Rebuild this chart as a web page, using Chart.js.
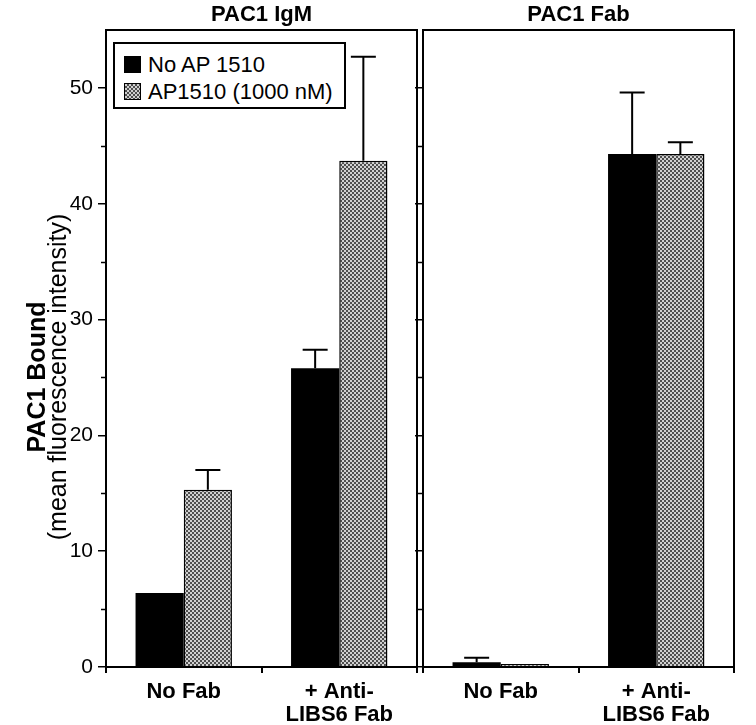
<!DOCTYPE html>
<html>
<head>
<meta charset="utf-8">
<script src="https://cdn.jsdelivr.net/npm/chart.js@4"></script>
<style>
  body { margin: 0; background: #fff; }
  #wrap { position: relative; width: 756px; height: 725px; font-family: "Liberation Sans", Arial, Helvetica, sans-serif; }
  canvas { position: absolute; left: 0; top: 0; }
  .legend { position: absolute; left: 113px; top: 42px; width: 229px; height: 63px; border: 2px solid #000; background: #fff; }
  .legend .item { position: absolute; left: 9px; font-size: 22px; line-height: 22px; white-space: nowrap; }
  .legend .sw { display: inline-block; width: 15px; height: 15px; border: 1.5px solid #000; vertical-align: -1px; margin-right: 7px; }
  .sw.black { background: #000; }
  .sw.dither { background: conic-gradient(#4e4e4e 25%, #d0d0d0 0 50%, #4e4e4e 0 75%, #d0d0d0 0); background-size: 4px 4px; }
</style>
</head>
<body>
<div id="wrap">
  <canvas id="igmChart" width="756" height="725"></canvas>
  <canvas id="fabChart" width="756" height="725"></canvas>
  <div class="legend">
    <div class="item" style="top:10px"><span class="sw black"></span>No AP 1510</div>
    <div class="item" style="top:37px"><span class="sw dither"></span>AP1510 (1000 nM)</div>
  </div>
</div>
<script>
//#region DATA
const categories = ["No Fab", ["+ Anti-", "LIBS6 Fab"]];
const seriesNames = ["No AP 1510", "AP1510 (1000 nM)"];

// PAC1 IgM panel
const igmNoAP = [6.4, 25.8];
const igmNoAPErr = [0, 1.6];
const igmAP = [15.3, 43.7];
const igmAPErr = [1.7, 9.0];

// PAC1 Fab panel
const fabNoAP = [0.4, 44.3];
const fabNoAPErr = [0.4, 5.3];
const fabAP = [0.25, 44.3];
const fabAPErr = [0, 1.0];

const yTicks = [0, 10, 20, 30, 40, 50];
const yMinorTicks = [5, 15, 25, 35, 45];
const yMax = 55;
//#endregion

const FONT = "'Liberation Sans', Arial, Helvetica, sans-serif";

function makeDither() {
  const c = document.createElement("canvas");
  c.width = 4;
  c.height = 4;
  const g = c.getContext("2d");
  g.fillStyle = "#d0d0d0";
  g.fillRect(0, 0, 4, 4);
  g.fillStyle = "#4e4e4e";
  g.fillRect(0, 0, 2, 2);
  g.fillRect(2, 2, 2, 2);
  return g.createPattern(c, "repeat");
}
const dither = makeDither();

// box round the plot area, short minor ticks, panel title
const framePlugin = {
  id: "frame",
  afterDraw(chart, args, opts) {
    const { ctx, chartArea: a } = chart;
    const y = chart.scales.y;
    ctx.save();
    ctx.strokeStyle = "#000";
    ctx.lineWidth = 2;
    ctx.strokeRect(a.left, a.top, a.right - a.left, a.bottom - a.top);
    ctx.lineWidth = 1.5;
    yMinorTicks.forEach((v) => {
      const py = Math.round(y.getPixelForValue(v)) + 0.5;
      ctx.beginPath();
      ctx.moveTo(a.left - 5, py);
      ctx.lineTo(a.left, py);
      ctx.stroke();
    });
    ctx.fillStyle = "#000";
    ctx.font = "bold 22px " + FONT;
    ctx.textAlign = "center";
    ctx.textBaseline = "alphabetic";
    ctx.fillText(opts.title, (a.left + a.right) / 2, 21);
    if (opts.yTitle) {
      ctx.translate(0, opts.yCenter);
      ctx.rotate(-Math.PI / 2);
      ctx.font = "bold 25px " + FONT;
      ctx.fillText(opts.yTitle, 0, 45);
      ctx.font = "25px " + FONT;
      ctx.fillText(opts.ySubtitle, 0, 66);
    }
    ctx.restore();
  },
};

// upper error bars with caps
const errorBars = {
  id: "errorBars",
  afterDatasetsDraw(chart, args, opts) {
    const { ctx } = chart;
    const y = chart.scales.y;
    ctx.save();
    ctx.strokeStyle = "#000";
    ctx.lineWidth = 2;
    chart.data.datasets.forEach((ds, i) => {
      const meta = chart.getDatasetMeta(i);
      meta.data.forEach((bar, j) => {
        const e = opts.errors[i][j];
        if (!e) return;
        const top = y.getPixelForValue(ds.data[j] + e);
        ctx.beginPath();
        ctx.moveTo(bar.x, bar.y);
        ctx.lineTo(bar.x, top);
        ctx.moveTo(bar.x - 12.5, top);
        ctx.lineTo(bar.x + 12.5, top);
        ctx.stroke();
      });
    });
    ctx.restore();
  },
};

function panelChart(id, noAP, ap, errors, panel) {
  const ctx = document.getElementById(id).getContext("2d");
  return new Chart(ctx, {
    type: "bar",
    data: {
      labels: categories,
      datasets: [
        {
          label: seriesNames[0],
          data: noAP,
          backgroundColor: "#000",
          borderColor: "#000",
          borderWidth: 0,
          categoryPercentage: 0.62,
          barPercentage: 1.0,
        },
        {
          label: seriesNames[1],
          data: ap,
          backgroundColor: dither,
          borderColor: "#000",
          borderWidth: 1.5,
          borderSkipped: "bottom",
          categoryPercentage: 0.62,
          barPercentage: 1.0,
        },
      ],
    },
    options: {
      responsive: false,
      animation: false,
      layout: {
        padding: { left: panel.padLeft, right: panel.padRight, top: 30, bottom: 0 },
      },
      scales: {
        x: {
          afterFit: (s) => { s.height = 58; },
          border: { color: "#000", width: 2 },
          grid: { drawOnChartArea: false, color: "#000", lineWidth: 2, tickLength: 6 },
          ticks: {
            color: "#000",
            padding: 7,
            maxRotation: 0,
            autoSkip: false,
            font: { family: FONT, size: 22, weight: "bold", lineHeight: 1.05 },
          },
        },
        y: {
          min: 0,
          max: yMax,
          afterFit: (s) => { s.width = panel.yWidth; },
          afterBuildTicks: (s) => { s.ticks = yTicks.map((v) => ({ value: v })); },
          border: { color: "#000", width: 2 },
          grid: { drawOnChartArea: false, color: "#000", lineWidth: 1.5, tickLength: 8 },
          ticks: {
            display: panel.showLabels,
            color: "#000",
            padding: 5,
            font: { family: FONT, size: 21 },
          },
        },
      },
      plugins: {
        legend: { display: false },
        tooltip: { enabled: false },
        errorBars: { errors: errors },
        frame: panel,
      },
    },
    plugins: [errorBars, framePlugin],
  });
}

panelChart("igmChart", igmNoAP, igmAP, [igmNoAPErr, igmAPErr], {
  title: "PAC1 IgM",
  padLeft: 0,
  padRight: 756 - 417,
  yWidth: 106,
  showLabels: true,
  yTitle: "PAC1 Bound",
  ySubtitle: "(mean fluorescence intensity)",
  yCenter: 377,
});

panelChart("fabChart", fabNoAP, fabAP, [fabNoAPErr, fabAPErr], {
  title: "PAC1 Fab",
  padLeft: 423 - 20,
  padRight: 756 - 734,
  yWidth: 20,
  showLabels: false,
});
</script>
</body>
</html>
